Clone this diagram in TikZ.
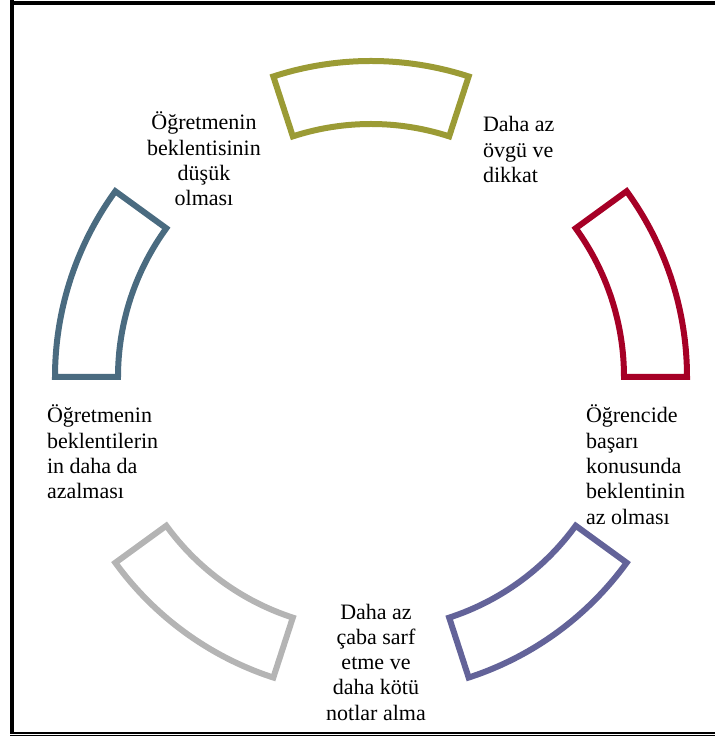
\documentclass[tikz,border=0pt]{standalone}
\usepackage{fontspec}
\setmainfont{Liberation Serif}
\definecolor{arcolive}{RGB}{155,155,53}
\definecolor{arcred}{RGB}{166,0,38}
\definecolor{arcpurple}{RGB}{99,99,153}
\definecolor{arcgray}{RGB}{180,180,180}
\definecolor{arcslate}{RGB}{74,107,128}
\tikzset{
  x=1pt,y=1pt,
  blockarc/.style={line width=6pt, line join=miter},
  lbl/.style={inner sep=0pt, outer sep=0pt, font=\fontsize{22}{25.3}\selectfont},
}
\newcommand{\firststrut}{\rule{0pt}{19pt}}
\newcommand{\blockarcpath}[2]{(#1:316pt) arc[start angle=#1, end angle=#2, radius=316pt] -- (#2:253pt) arc[start angle=#2, end angle=#1, radius=253pt] -- cycle}
\begin{document}
\begin{tikzpicture}
\useasboundingbox (0,0) rectangle (715,737);
% frame
\draw[line width=4pt] (12,737) -- (12,3);
\draw[line width=4pt] (10,734) -- (715,734);
\draw[line width=2.7pt] (10,4) -- (715,4);
\draw[line width=1pt] (10,1) -- (715,1);
% block arcs
\begin{scope}[shift={(371pt,360pt)}]
\draw[blockarc, arcolive] \blockarcpath{72}{108};
\draw[blockarc, arcred] \blockarcpath{0}{36};
\draw[blockarc, arcpurple] \blockarcpath{-72}{-36};
\draw[blockarc, arcgray] \blockarcpath{-144}{-108};
\draw[blockarc, arcslate] \blockarcpath{144}{180};
\end{scope}
% labels
\node[lbl, anchor=north west, align=left] (t1) at (483,624) {\firststrut Daha az\\övgü ve\\dikkat};
\node[lbl, anchor=north west, align=left] (t2) at (586,333) {\firststrut Öğrencide\\başarı\\konusunda\\beklentinin\\az olması};
\node[lbl, anchor=north, align=center] (t3) at (376,137) {\firststrut Daha az\\çaba sarf\\etme ve\\daha kötü\\notlar alma};
\node[lbl, anchor=north west, align=left] (t4) at (47,333) {\firststrut Öğretmenin\\beklentilerin\\in daha da\\azalması};
\node[lbl, anchor=north, align=center] (t5) at (204,626) {\firststrut Öğretmenin\\beklentisinin\\düşük\\olması};
\end{tikzpicture}
\end{document}
